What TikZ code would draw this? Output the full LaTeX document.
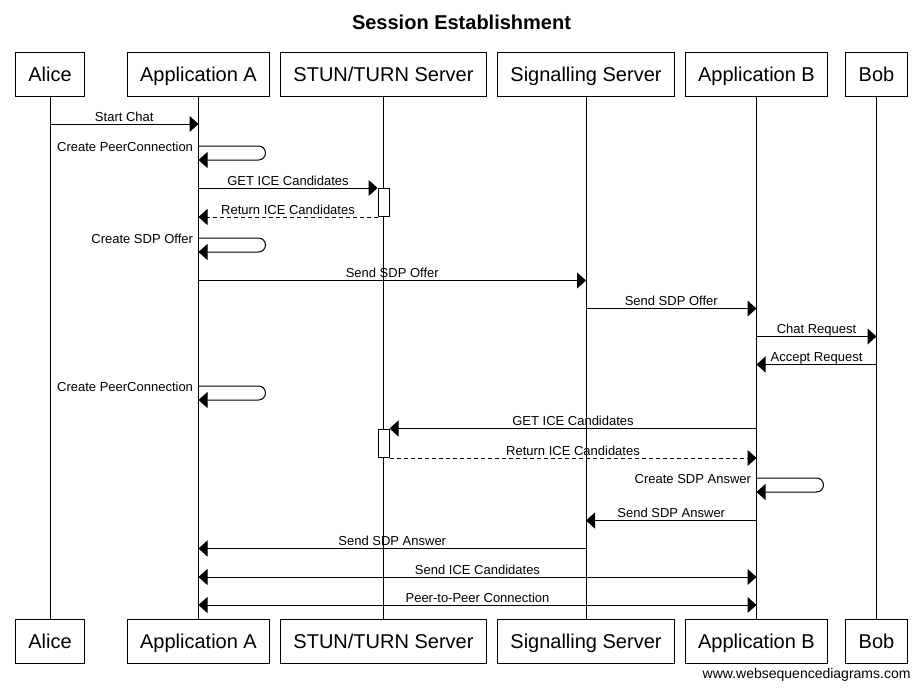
\documentclass[tikz,border=0pt]{standalone}
\usepackage{fontspec}
\setmainfont{Liberation Sans}
\usetikzlibrary{arrows.meta}
\begin{document}
\begin{tikzpicture}[x=1pt,y=-1pt,line width=1pt,
  part/.style={draw,fill=white,font=\fontsize{20}{24}\selectfont,minimum height=44pt,inner xsep=13pt,inner ysep=0pt,text height=15pt,text depth=0pt},
  msg/.style={-{Triangle[length=9pt,width=16pt]}},
  bimsg/.style={{Triangle[length=9pt,width=16pt]}-{Triangle[length=9pt,width=16pt]}},
  ret/.style={msg,dash pattern=on 4pt off 3pt},
  lbl/.style={font=\fontsize{13}{15}\selectfont,inner sep=0pt,anchor=base,yshift=3pt},
  slbl/.style={font=\fontsize{13}{15}\selectfont,inner sep=0pt,anchor=base east,xshift=-5pt,yshift=-5pt},
  act/.style={draw,fill=white,minimum width=11pt,inner sep=0pt,anchor=north}]
\useasboundingbox (0,0) rectangle (921,688);
% title
\node[font=\bfseries\fontsize{20}{24}\selectfont,anchor=base,inner sep=0pt] (title) at (461.5,29.5) {Session Establishment};
% participants top
\node[part] (alice) at (50,74) {Alice};
\node[part] (appa) at (198.5,74) {Application A};
\node[part] (stun) at (383.5,74) {STUN/TURN Server};
\node[part] (sig) at (586,74) {Signalling Server};
\node[part] (appb) at (756.5,74) {Application B};
\node[part] (bob) at (876.5,74) {Bob};
% participants bottom
\node[part] (alice2) at (50,641) {Alice};
\node[part] (appa2) at (198.5,641) {Application A};
\node[part] (stun2) at (383.5,641) {STUN/TURN Server};
\node[part] (sig2) at (586,641) {Signalling Server};
\node[part] (appb2) at (756.5,641) {Application B};
\node[part] (bob2) at (876.5,641) {Bob};
% lifelines
\draw (alice.south) -- (alice2.north);
\draw (appa.south) -- (appa2.north);
\draw (stun.south) -- (stun2.north);
\draw (sig.south) -- (sig2.north);
\draw (appb.south) -- (appb2.north);
\draw (bob.south) -- (bob2.north);
% activation boxes
\node[act,minimum height=28pt] (act1) at (stun |- 0,188) {};
\node[act,minimum height=28.5pt] (act2) at (stun |- 0,428.5) {};
% messages
\draw[msg] (alice |- 0,124) -- node[lbl]{Start Chat} (appa |- 0,124);
\draw[msg,rounded corners=7pt] (appa |- 0,146) node[slbl]{Create PeerConnection} -- ++(67,0) -- ++(0,14) -- (appa |- 0,160);
\draw[msg] (appa |- act1.north) -- node[lbl]{GET ICE Candidates} (act1.north west);
\draw[ret] (act1.south west) -- node[lbl]{Return ICE Candidates} (appa |- act1.south);
\draw[msg,rounded corners=7pt] (appa |- 0,238) node[slbl]{Create SDP Offer} -- ++(67,0) -- ++(0,14) -- (appa |- 0,252);
\draw[msg] (appa |- 0,280.5) -- node[lbl]{Send SDP Offer} (sig |- 0,280.5);
\draw[msg] (sig |- 0,308.5) -- node[lbl]{Send SDP Offer} (appb |- 0,308.5);
\draw[msg] (appb |- 0,336.5) -- node[lbl]{Chat Request} (bob |- 0,336.5);
\draw[msg] (bob |- 0,364.5) -- node[lbl]{Accept Request} (appb |- 0,364.5);
\draw[msg,rounded corners=7pt] (appa |- 0,386) node[slbl]{Create PeerConnection} -- ++(67,0) -- ++(0,14) -- (appa |- 0,400);
\draw[msg] (appb |- act2.north) -- node[lbl]{GET ICE Candidates} (act2.north east);
\draw[ret] (act2.south east) -- node[lbl]{Return ICE Candidates} (appb |- act2.south);
\draw[msg,rounded corners=7pt] (appb |- 0,478) node[slbl]{Create SDP Answer} -- ++(67,0) -- ++(0,14) -- (appb |- 0,492);
\draw[msg] (appb |- 0,520.5) -- node[lbl]{Send SDP Answer} (sig |- 0,520.5);
\draw[msg] (sig |- 0,548.5) -- node[lbl]{Send SDP Answer} (appa |- 0,548.5);
\draw[bimsg] (appa |- 0,577) -- node[lbl]{Send ICE Candidates} (appb |- 0,577);
\draw[bimsg] (appa |- 0,605) -- node[lbl]{Peer-to-Peer Connection} (appb |- 0,605);
% footer
\node[anchor=base east,inner sep=0pt,font=\fontsize{14}{16}\selectfont] (foot) at (911,678.5) {www.websequencediagrams.com};
\end{tikzpicture}
\end{document}
